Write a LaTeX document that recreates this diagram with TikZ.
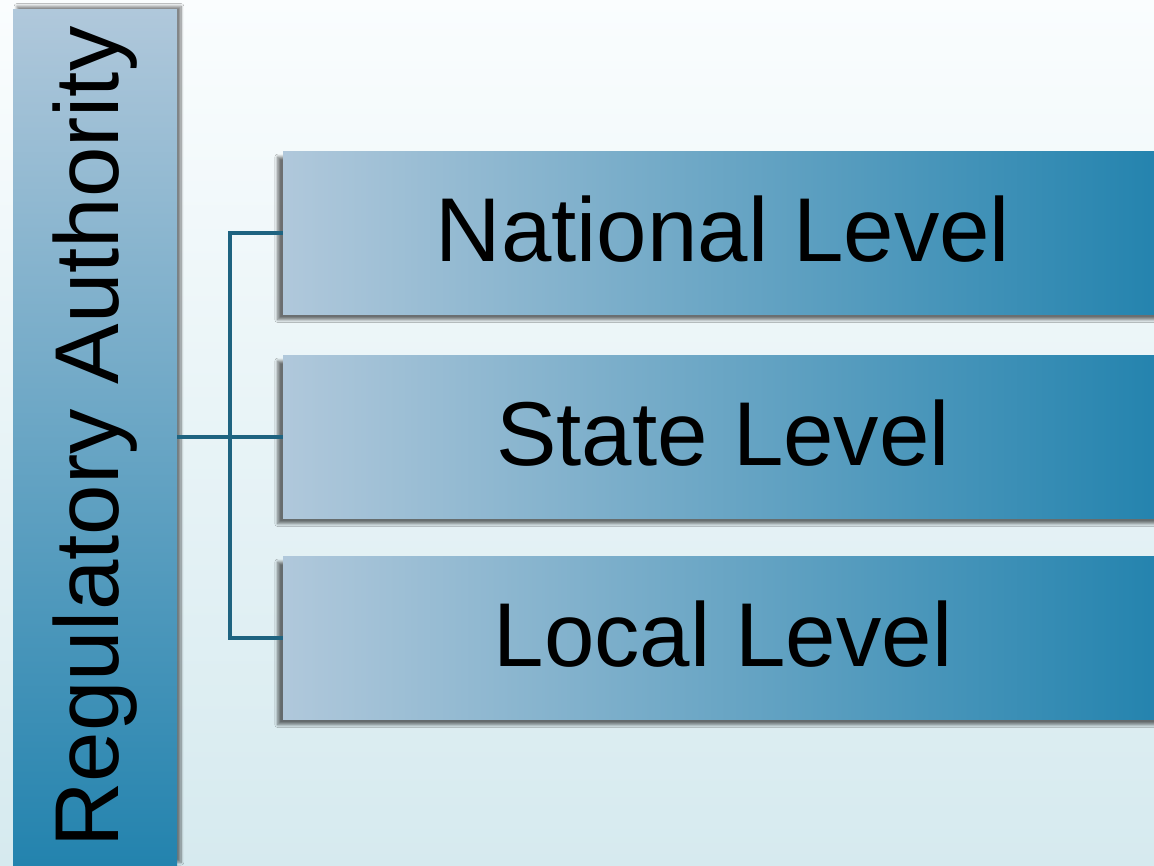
\documentclass[tikz,border=0pt]{standalone}
\usepackage{fontspec}
\setmainfont{Liberation Sans}
\usetikzlibrary{shadows.blur}

\definecolor{paleblue}{HTML}{B0C8DB}
\definecolor{deepblue}{HTML}{2383AE}
\definecolor{linkteal}{HTML}{1E6380}
\definecolor{bgtop}{HTML}{FAFDFE}
\definecolor{bgmid}{HTML}{F5FAFC}
\definecolor{bgbottom}{HTML}{D6EAEF}

\begin{document}
\begin{tikzpicture}[x=0.75pt,y=-0.75pt,font=\fontsize{68pt}{80pt}\selectfont,
  authbox/.style={inner sep=0pt,minimum width=123pt,minimum height=642pt,
    top color=paleblue,bottom color=deepblue,
    blur shadow={shadow xshift=3pt,shadow yshift=2pt,shadow blur steps=8,shadow opacity=50}},
  levelbox/.style={inner sep=0pt,minimum width=660pt,minimum height=122pt,text depth=7pt,
    left color=paleblue,right color=deepblue,
    blur shadow={shadow xshift=-4pt,shadow yshift=-4pt,shadow blur steps=8,shadow opacity=55}},
  link/.style={draw=linkteal,line width=2.4pt}]
  \useasboundingbox (0,0) rectangle (1154,865);
  % background
  \fill[top color=bgtop,middle color=bgmid,bottom color=bgbottom]
    (0,0) rectangle (1154,865);
  \node[authbox] (auth) at (95,437) {\rotatebox{90}{Regulatory Authority}};
  \foreach \n/\y/\t in {nat/233/National Level,st/437/State Level,loc/638/Local Level} {
    \node[levelbox] (\n) at (723,\y) {\t};
  }
  \coordinate (hub) at (230,437);
  \draw[link] (auth.east) -- (st.west);
  \draw[link] (nat.west) -| (hub) |- (loc.west);
\end{tikzpicture}
\end{document}
